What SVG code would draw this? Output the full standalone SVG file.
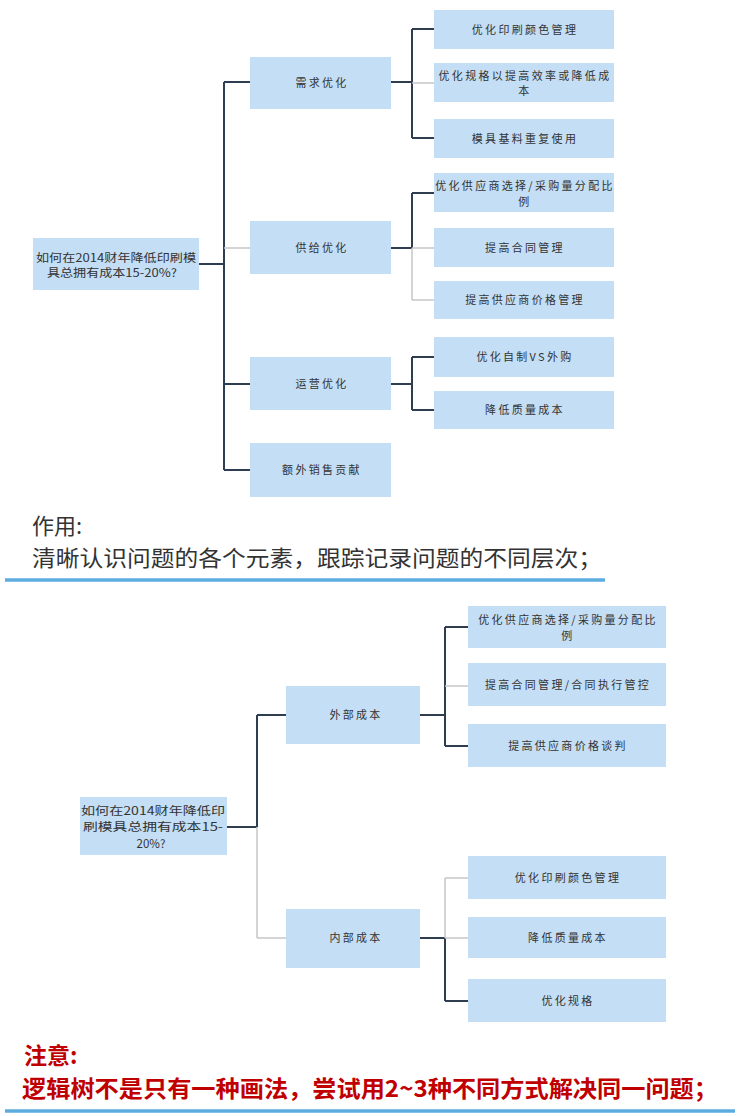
<svg xmlns="http://www.w3.org/2000/svg" width="740" height="1116" viewBox="0 0 740 1116">
<style>
.box{fill:#c4def5}
.t{font-family:"Noto Sans CJK SC","Liberation Sans",sans-serif;font-size:11px;fill:#333;text-anchor:middle;letter-spacing:2.3px}
.r{font-family:"Noto Sans CJK SC","Liberation Sans",sans-serif;font-size:11.5px;fill:#333;text-anchor:middle}
.d{stroke:#2e3d4f;stroke-width:2;fill:none}
.l{stroke:#c6c6c6;stroke-width:1.5;fill:none}
.h{font-family:"Noto Sans CJK SC","Liberation Sans",sans-serif;font-size:22px;fill:#333}
.red{font-family:"Noto Sans CJK SC","Liberation Sans",sans-serif;font-size:23px;fill:#c00000;font-weight:bold}
.sep{stroke:#5dace0;stroke-width:3.5}
</style>
<rect width="740" height="1116" fill="#ffffff"/>

<g id="connectors">
  <!-- top tree -->
  <path class="d" d="M199,264H224M224,82V470M224,82H250M224,384H250M224,470H250"/>
  <path class="l" d="M224,248H250"/>
  <path class="d" d="M391,82H412M412,29V138M412,29H434M412,138H434"/>
  <path class="l" d="M412,83H434"/>
  <path class="d" d="M391,248H412M412,193V248M412,193H434"/>
  <path class="l" d="M412,248V300M412,248H434M412,300H434"/>
  <path class="d" d="M391,384H412M412,357V410M412,357H434M412,410H434"/>
  <!-- bottom tree -->
  <path class="d" d="M227,827H257M257,715V827M257,715H286"/>
  <path class="l" d="M257,827V938M257,938H286"/>
  <path class="d" d="M420,715H445M445,627V746M445,627H468M445,746H468"/>
  <path class="l" d="M445,686H468"/>
  <path class="d" d="M420,938H445M445,938V1001M445,1001H468"/>
  <path class="l" d="M445,878V938M445,878H468M445,938H468"/>
</g>

<!-- top tree nodes -->
<g id="root1"><rect class="box" x="33" y="238" width="166" height="52"/>
<text class="r" x="116" y="262" textLength="160" lengthAdjust="spacingAndGlyphs">如何在2014财年降低印刷模</text>
<text class="r" x="112" y="277" textLength="130" lengthAdjust="spacingAndGlyphs">具总拥有成本15-20%?</text></g>
<g id="n_demand"><rect class="box" x="250" y="57" width="141" height="52"/><text class="t" x="322" y="87">需求优化</text></g>
<g id="n_supply"><rect class="box" x="250" y="221" width="141" height="53"/><text class="t" x="322" y="252">供给优化</text></g>
<g id="n_ops"><rect class="box" x="250" y="357" width="141" height="53"/><text class="t" x="322" y="388">运营优化</text></g>
<g id="n_extra"><rect class="box" x="250" y="443" width="141" height="54"/><text class="t" x="322" y="474">额外销售贡献</text></g>

<g id="l_color"><rect class="box" x="434" y="10" width="180" height="39"/><text class="t" x="525" y="34">优化印刷颜色管理</text></g>
<g id="l_spec"><rect class="box" x="434" y="63" width="180" height="39"/><text class="t" x="525" y="80">优化规格以提高效率或降低成</text><text class="t" x="525" y="95">本</text></g>
<g id="l_mold"><rect class="box" x="434" y="119" width="180" height="39"/><text class="t" x="525" y="143">模具基料重复使用</text></g>
<g id="l_vendor"><rect class="box" x="434" y="173" width="180" height="39"/><text class="t" x="525" y="190">优化供应商选择/采购量分配比</text><text class="t" x="525" y="206">例</text></g>
<g id="l_contract"><rect class="box" x="434" y="228" width="180" height="39"/><text class="t" x="525" y="252">提高合同管理</text></g>
<g id="l_price"><rect class="box" x="434" y="281" width="180" height="38"/><text class="t" x="525" y="304">提高供应商价格管理</text></g>
<g id="l_make"><rect class="box" x="434" y="337" width="180" height="40"/><text class="t" x="525" y="361">优化自制VS外购</text></g>
<g id="l_quality"><rect class="box" x="434" y="391" width="180" height="38"/><text class="t" x="525" y="414">降低质量成本</text></g>

<g id="caption1">
<text class="h" x="32" y="534">作用:</text>
<text class="h" x="32" y="566" textLength="570" lengthAdjust="spacingAndGlyphs">清晰认识问题的各个元素，跟踪记录问题的不同层次；</text>
<line class="sep" x1="5" y1="580" x2="605" y2="580"/>
</g>

<!-- bottom tree nodes -->
<g id="root2"><rect class="box" x="80" y="797" width="147" height="58"/>
<text class="r" x="153" y="815" textLength="144" lengthAdjust="spacingAndGlyphs">如何在2014财年降低印</text>
<text class="r" x="153" y="831" textLength="140" lengthAdjust="spacingAndGlyphs">刷模具总拥有成本15-</text>
<text class="r" x="151" y="848">20%?</text></g>
<g id="n_external"><rect class="box" x="286" y="686" width="134" height="58"/><text class="t" x="356" y="719">外部成本</text></g>
<g id="n_internal"><rect class="box" x="286" y="909" width="134" height="59"/><text class="t" x="356" y="942">内部成本</text></g>

<g id="b_vendor"><rect class="box" x="468" y="606" width="198" height="42"/><text class="t" x="568" y="624">优化供应商选择/采购量分配比</text><text class="t" x="568" y="640">例</text></g>
<g id="b_contract"><rect class="box" x="468" y="663" width="198" height="43"/><text class="t" x="568" y="689">提高合同管理/合同执行管控</text></g>
<g id="b_price"><rect class="box" x="468" y="724" width="198" height="43"/><text class="t" x="568" y="750">提高供应商价格谈判</text></g>
<g id="b_color"><rect class="box" x="468" y="856" width="198" height="43"/><text class="t" x="568" y="882">优化印刷颜色管理</text></g>
<g id="b_quality"><rect class="box" x="468" y="917" width="198" height="41"/><text class="t" x="568" y="942">降低质量成本</text></g>
<g id="b_spec"><rect class="box" x="468" y="979" width="198" height="43"/><text class="t" x="568" y="1005">优化规格</text></g>

<g id="caption2">
<text class="red" x="24" y="1064">注意:</text>
<text class="red" x="22" y="1097" textLength="696" lengthAdjust="spacingAndGlyphs">逻辑树不是只有一种画法，尝试用2~3种不同方式解决同一问题；</text>
<line class="sep" x1="5" y1="1111" x2="735" y2="1111"/>
</g>
</svg>
